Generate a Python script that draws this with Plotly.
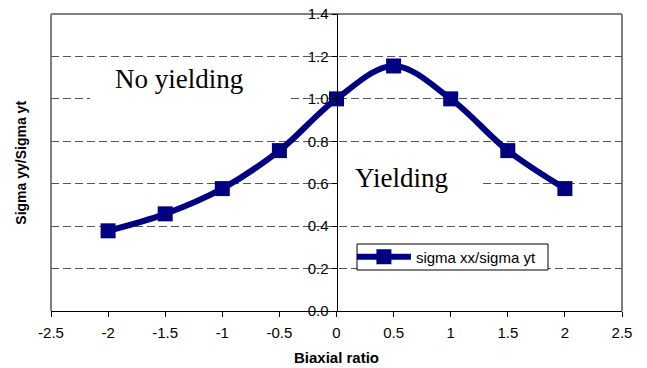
import plotly.graph_objects as go

biaxial_ratio = [-2, -1.5, -1, -0.5, 0, 0.5, 1, 1.5, 2]
sigma_ratio = [0.378, 0.458, 0.577, 0.756, 1.0, 1.155, 1.0, 0.756, 0.577]
series_name = "sigma xx/sigma yt"

x_tickvals = [-2.5, -2, -1.5, -1, -0.5, 0, 0.5, 1, 1.5, 2, 2.5]
x_ticktext = ["-2.5", "-2", "-1.5", "-1", "-0.5", "0", "0.5", "1", "1.5", "2", "2.5"]
y_tickvals = [0.0, 0.2, 0.4, 0.6, 0.8, 1.0, 1.2, 1.4]
y_ticktext = ["0.0", "0.2", "0.4", "0.6", "0.8", "1.0", "1.2", "1.4"]

NAVY = "#000080"
GRID = "#555555"
FRAME = "#808080"
SANS = "Arial, Liberation Sans, sans-serif"
SERIF = "Times New Roman, Liberation Serif, serif"

fig = go.Figure()
fig.add_trace(go.Scatter(
    x=biaxial_ratio, y=sigma_ratio, name=series_name,
    mode="lines+markers",
    line=dict(color=NAVY, width=6, shape="spline", smoothing=1.0),
    marker=dict(symbol="square", size=15, color=NAVY),
))

fig.update_layout(
    width=647, height=368,
    margin=dict(l=51, r=25, t=14, b=57, autoexpand=False),
    paper_bgcolor="white", plot_bgcolor="white",
    font=dict(family=SANS, size=15, color="black"),
    showlegend=True,
    legend=dict(
        x=0.527, y=0.1818, xanchor="left", yanchor="middle",
        bgcolor="rgba(0,0,0,0)", borderwidth=0,
        font=dict(size=15, family=SANS),
        itemwidth=54,
        tracegroupgap=0,
    ),
    xaxis=dict(
        range=[-2.5, 2.5], tickvals=x_tickvals, ticktext=x_ticktext,
        showgrid=False, zeroline=False, automargin=False,
        showline=True, linecolor="black", linewidth=1,
        ticks="outside", ticklen=5, tickcolor="black",
        tickfont=dict(size=15), ticklabelstandoff=3,
        title=dict(text="<b>Biaxial ratio</b>", font=dict(size=15), standoff=12),
    ),
    yaxis=dict(
        range=[0, 1.4], tickvals=y_tickvals, ticktext=y_ticktext,
        anchor="free", position=0.5, automargin=False,
        showgrid=True, gridcolor=GRID, gridwidth=1, griddash="8px,4px",
        zeroline=False,
        showline=True, linecolor="black", linewidth=1,
        ticks="outside", ticklen=5, tickcolor="black",
        tickfont=dict(size=15),
    ),
)

# grey frame (left, top, right)
for x0, y0, x1, y1 in [(0, 0, 0, 1), (0, 1, 1, 1), (1, 1, 1, 0)]:
    fig.add_shape(type="line", xref="paper", yref="paper", x0=x0, y0=y0, x1=x1, y1=y1,
                  line=dict(color=FRAME, width=2), layer="below")

# white masks behind the region labels, and the legend box
def px_rect(x0, y0, x1, y1, line):
    # pixel coords -> paper fractions
    L, T, W, H = 51, 14, 571, 297
    fig.add_shape(type="rect", xref="paper", yref="paper",
                  x0=(x0 - L) / W, x1=(x1 - L) / W,
                  y0=(T + H - y1) / H, y1=(T + H - y0) / H,
                  fillcolor="white", line=line, layer="above")

px_rect(90, 62, 288, 106, dict(width=0))
px_rect(338, 152, 481, 217, dict(width=0))
px_rect(357, 244, 548, 270, dict(color="black", width=1))

fig.add_annotation(
    x=-1.383, y=1.095, xref="x", yref="y", text="No yielding", showarrow=False,
    font=dict(family=SERIF, size=27, color="black"),
)
fig.add_annotation(
    x=0.569, y=0.629, xref="x", yref="y", text="Yielding", showarrow=False,
    font=dict(family=SERIF, size=27, color="black"),
)
fig.add_annotation(
    x=-0.054, y=0.5, xref="paper", yref="paper", xanchor="center", yanchor="middle",
    text="<b>Sigma yy/Sigma yt</b>", textangle=-90, showarrow=False,
    font=dict(size=14),
)

fig.write_html("out.html")
